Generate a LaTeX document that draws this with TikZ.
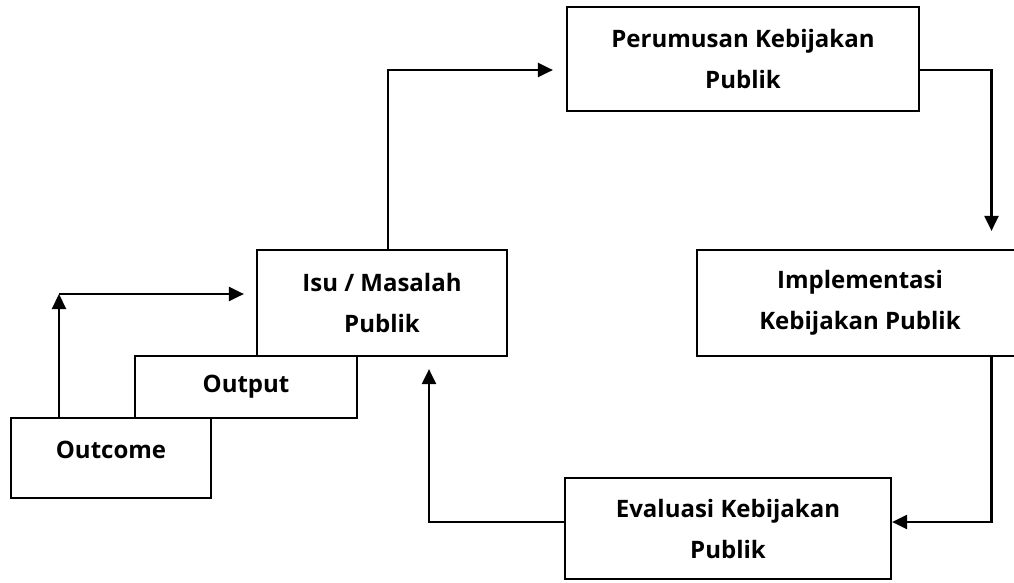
\documentclass[tikz,border=0pt]{standalone}
\usepackage{fontspec}
\setmainfont{Open Sans}
\usetikzlibrary{arrows.meta}
\begin{document}
\begin{tikzpicture}[x=1pt,y=-1pt,
  box/.style={draw, line width=2.2pt, align=center, inner sep=0pt,
    font=\bfseries\fontsize{24}{41}\selectfont},
  flow/.style={line width=2.2pt, -{Triangle[length=15pt,width=14pt]}}]
\useasboundingbox (0,0) rectangle (1014,582);

% process boxes
\node[box, minimum width=352pt, minimum height=104pt] (perumusan) at (743,59) {Perumusan Kebijakan\\Publik};
\node[box, minimum width=250pt, minimum height=106pt] (isu) at (382,303) {Isu / Masalah\\Publik};
\node[box, minimum width=326pt, minimum height=106pt] (impl) at (860,303) {Implementasi\\Kebijakan Publik};
\node[box, minimum width=326pt, minimum height=101pt] (eval) at (728,528.5) {Evaluasi Kebijakan\\Publik};
\node[box, minimum width=222pt, minimum height=62pt] (output) at (246,387) {Output};
\node[box, minimum width=200pt, minimum height=80pt] (outcome) at (111,458) {\raisebox{8pt}[\height][\depth]{Outcome}};

% bend points of the connectors
\coordinate (c1) at (59,294);
\coordinate (k1) at (388,70);
\coordinate (k2) at (991.5,70);
\coordinate (k3) at (991.5,522);
\coordinate (k4) at (429,522);

% cycle connectors
\draw[flow] (outcome.north -| c1) -- (c1);
\draw[flow] (c1) -- ([xshift=-12pt]isu.west |- c1);
\draw[flow] (isu.north -| k1) |- ([xshift=-13pt]perumusan.west |- k1);
\draw[flow] (perumusan.east |- k2) -| ([yshift=18pt]impl.north -| k2);
\draw[flow] (impl.south -| k3) |- (eval.east |- k3);
\draw[flow] (eval.west |- k4) -| ([yshift=-12pt]isu.south -| k4);
\end{tikzpicture}
\end{document}
